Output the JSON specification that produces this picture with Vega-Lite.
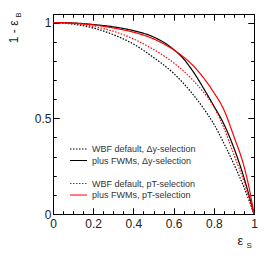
{
  "$schema": "https://vega.github.io/schema/vega-lite/v6.json",
  "width": 201,
  "height": 200,
  "autosize": {"type": "none"},
  "padding": {"left": 53, "top": 14, "right": 14, "bottom": 54},
  "config": {
    "view": {"stroke": "#000", "strokeWidth": 1},
    "font": "Liberation Sans",
    "axis": {"grid": false, "domain": false, "labelFont": "Liberation Sans", "labelColor": "#222", "tickColor": "#000", "tickWidth": 1, "titleFont": "Liberation Sans", "titleFontWeight": "normal", "titleColor": "#222", "labelFlush": false, "gridColor": "#000", "gridOpacity": 1, "gridWidth": 1}
  },
  "data": {"values": [
    {"s": "WBF default, Δy-selection", "x": 0, "y": 1},
    {"s": "WBF default, Δy-selection", "x": 0.1, "y": 0.992},
    {"s": "WBF default, Δy-selection", "x": 0.2, "y": 0.972},
    {"s": "WBF default, Δy-selection", "x": 0.3, "y": 0.937},
    {"s": "WBF default, Δy-selection", "x": 0.4, "y": 0.888},
    {"s": "WBF default, Δy-selection", "x": 0.5, "y": 0.818},
    {"s": "WBF default, Δy-selection", "x": 0.6, "y": 0.735},
    {"s": "WBF default, Δy-selection", "x": 0.7, "y": 0.62},
    {"s": "WBF default, Δy-selection", "x": 0.75, "y": 0.55},
    {"s": "WBF default, Δy-selection", "x": 0.8, "y": 0.47},
    {"s": "WBF default, Δy-selection", "x": 0.85, "y": 0.37},
    {"s": "WBF default, Δy-selection", "x": 0.9, "y": 0.26},
    {"s": "WBF default, Δy-selection", "x": 0.95, "y": 0.14},
    {"s": "WBF default, Δy-selection", "x": 1, "y": 0},
    {"s": "plus FWMs,  Δy-selection", "x": 0, "y": 1},
    {"s": "plus FWMs,  Δy-selection", "x": 0.1, "y": 0.998},
    {"s": "plus FWMs,  Δy-selection", "x": 0.2, "y": 0.99},
    {"s": "plus FWMs,  Δy-selection", "x": 0.3, "y": 0.978},
    {"s": "plus FWMs,  Δy-selection", "x": 0.4, "y": 0.958},
    {"s": "plus FWMs,  Δy-selection", "x": 0.5, "y": 0.925},
    {"s": "plus FWMs,  Δy-selection", "x": 0.6, "y": 0.86},
    {"s": "plus FWMs,  Δy-selection", "x": 0.65, "y": 0.81},
    {"s": "plus FWMs,  Δy-selection", "x": 0.7, "y": 0.74},
    {"s": "plus FWMs,  Δy-selection", "x": 0.75, "y": 0.655},
    {"s": "plus FWMs,  Δy-selection", "x": 0.8, "y": 0.565},
    {"s": "plus FWMs,  Δy-selection", "x": 0.85, "y": 0.47},
    {"s": "plus FWMs,  Δy-selection", "x": 0.9, "y": 0.345},
    {"s": "plus FWMs,  Δy-selection", "x": 0.95, "y": 0.19},
    {"s": "plus FWMs,  Δy-selection", "x": 1, "y": 0},
    {"s": "WBF default, pT-selection", "x": 0, "y": 1},
    {"s": "WBF default, pT-selection", "x": 0.1, "y": 0.995},
    {"s": "WBF default, pT-selection", "x": 0.2, "y": 0.98},
    {"s": "WBF default, pT-selection", "x": 0.3, "y": 0.955},
    {"s": "WBF default, pT-selection", "x": 0.4, "y": 0.915},
    {"s": "WBF default, pT-selection", "x": 0.5, "y": 0.86},
    {"s": "WBF default, pT-selection", "x": 0.6, "y": 0.79},
    {"s": "WBF default, pT-selection", "x": 0.7, "y": 0.695},
    {"s": "WBF default, pT-selection", "x": 0.75, "y": 0.635},
    {"s": "WBF default, pT-selection", "x": 0.8, "y": 0.56},
    {"s": "WBF default, pT-selection", "x": 0.85, "y": 0.45},
    {"s": "WBF default, pT-selection", "x": 0.9, "y": 0.31},
    {"s": "WBF default, pT-selection", "x": 0.95, "y": 0.17},
    {"s": "WBF default, pT-selection", "x": 1, "y": 0},
    {"s": "plus FWMs,  pT-selection", "x": 0, "y": 1},
    {"s": "plus FWMs,  pT-selection", "x": 0.1, "y": 0.997},
    {"s": "plus FWMs,  pT-selection", "x": 0.2, "y": 0.988},
    {"s": "plus FWMs,  pT-selection", "x": 0.3, "y": 0.972},
    {"s": "plus FWMs,  pT-selection", "x": 0.4, "y": 0.95},
    {"s": "plus FWMs,  pT-selection", "x": 0.5, "y": 0.915},
    {"s": "plus FWMs,  pT-selection", "x": 0.6, "y": 0.858},
    {"s": "plus FWMs,  pT-selection", "x": 0.65, "y": 0.82},
    {"s": "plus FWMs,  pT-selection", "x": 0.7, "y": 0.772},
    {"s": "plus FWMs,  pT-selection", "x": 0.75, "y": 0.71},
    {"s": "plus FWMs,  pT-selection", "x": 0.8, "y": 0.635},
    {"s": "plus FWMs,  pT-selection", "x": 0.85, "y": 0.545},
    {"s": "plus FWMs,  pT-selection", "x": 0.9, "y": 0.405},
    {"s": "plus FWMs,  pT-selection", "x": 0.95, "y": 0.25},
    {"s": "plus FWMs,  pT-selection", "x": 0.975, "y": 0.14},
    {"s": "plus FWMs,  pT-selection", "x": 1, "y": 0}
  ]},
  "resolve": {"axis": {"x": "independent", "y": "independent"}},
  "layer": [
    {
      "mark": {"type": "point", "opacity": 0, "size": 0},
      "encoding": {
        "x": {"field": "x", "type": "quantitative", "scale": {"domain": [0, 1], "nice": false, "zero": false},
          "axis": {"orient": "bottom", "values": [0, 0.2, 0.4, 0.6, 0.8, 1], "format": "~g", "tickSize": -6, "labelFontSize": 12, "labelPadding": 10,
            "grid": true, "gridDash": [6, 188, 6, 400],
            "title": "ε", "titleX": 184, "titleY": 30, "titleAlign": "left", "titleBaseline": "alphabetic", "titleFontSize": 13, "titleAngle": 0}},
        "y": {"field": "y", "type": "quantitative", "scale": {"domain": [0, 1.045], "nice": false},
          "axis": {"orient": "left", "values": [0, 0.5, 1], "format": "~g", "tickSize": -6, "labelFontSize": 12, "labelPadding": 8,
            "grid": true, "gridDash": [6, 189, 6, 400],
            "title": "1 - ε", "titleAngle": -90, "titleX": -36, "titleY": 6, "titleAlign": "right", "titleBaseline": "alphabetic", "titleFontSize": 12}}
      }
    },
    {
      "mark": {"type": "point", "opacity": 0, "size": 0},
      "encoding": {
        "x": {"field": "x", "type": "quantitative", "axis": {"orient": "top", "values": [0, 0.2, 0.4, 0.6, 0.8, 1], "tickSize": -6, "labels": false,
          "title": "S", "titleX": 193, "titleY": 233, "titleAlign": "left", "titleBaseline": "alphabetic", "titleFontSize": 8, "titleAngle": 0}},
        "y": {"field": "y", "type": "quantitative", "axis": {"orient": "right", "values": [0, 0.5, 1], "tickSize": -6, "labels": false,
          "title": "B", "titleAngle": -90, "titleX": -234, "titleY": -2, "titleAlign": "right", "titleBaseline": "alphabetic", "titleFontSize": 8}}
      }
    },
    {
      "mark": {"type": "point", "opacity": 0, "size": 0},
      "encoding": {
        "x": {"field": "x", "type": "quantitative", "axis": {"orient": "bottom", "values": [0.05, 0.1, 0.15, 0.25, 0.3, 0.35, 0.45, 0.5, 0.55, 0.65, 0.7, 0.75, 0.85, 0.9, 0.95], "tickSize": -3, "labels": false, "title": null,
          "grid": true, "gridDash": [3, 194, 3, 400]}},
        "y": {"field": "y", "type": "quantitative", "axis": {"orient": "left", "values": [0.1, 0.2, 0.3, 0.4, 0.6, 0.7, 0.8, 0.9], "tickSize": -3, "labels": false, "title": null,
          "grid": true, "gridDash": [3, 195, 3, 400]}}
      }
    },
    {
      "mark": {"type": "point", "opacity": 0, "size": 0},
      "encoding": {
        "x": {"field": "x", "type": "quantitative", "axis": {"orient": "top", "values": [0.05, 0.1, 0.15, 0.25, 0.3, 0.35, 0.45, 0.5, 0.55, 0.65, 0.7, 0.75, 0.85, 0.9, 0.95], "tickSize": -3, "labels": false, "title": null}},
        "y": {"field": "y", "type": "quantitative", "axis": {"orient": "right", "values": [0.1, 0.2, 0.3, 0.4, 0.6, 0.7, 0.8, 0.9], "tickSize": -3, "labels": false, "title": null}}
      }
    },
    {
      "mark": {"type": "line", "strokeWidth": 1.2, "interpolate": "monotone"},
      "encoding": {
        "x": {"field": "x", "type": "quantitative", "axis": null},
        "y": {"field": "y", "type": "quantitative", "axis": null},
        "color": {"field": "s", "type": "nominal",
          "scale": {"domain": ["WBF default, Δy-selection", "plus FWMs,  Δy-selection", " ", "WBF default, pT-selection", "plus FWMs,  pT-selection"],
                    "range": ["#000000", "#000000", "transparent", "#ff0000", "#ff0000"]},
          "legend": {"orient": "none", "legendX": 16, "legendY": 129, "title": null, "padding": 0,
            "symbolType": "M-1,0H2.4", "symbolSize": 100, "symbolStrokeWidth": 1.2, "labelFontSize": 9, "labelColor": "#333", "labelOffset": 11, "rowPadding": 0.5, "labelFont": "Liberation Sans"}},
        "strokeDash": {"field": "s", "type": "nominal",
          "scale": {"domain": ["WBF default, Δy-selection", "plus FWMs,  Δy-selection", " ", "WBF default, pT-selection", "plus FWMs,  pT-selection"],
                    "range": [[1.5, 1.5], [1, 0], [1, 0], [1.5, 1.5], [1, 0]]},
          "legend": {"orient": "none", "legendX": 16, "legendY": 129, "title": null, "padding": 0,
            "symbolType": "M-1,0H2.4", "symbolSize": 100, "symbolStrokeWidth": 1.2, "labelFontSize": 9, "labelColor": "#333", "labelOffset": 11, "rowPadding": 0.5, "labelFont": "Liberation Sans"}}
      }
    }
  ]
}
